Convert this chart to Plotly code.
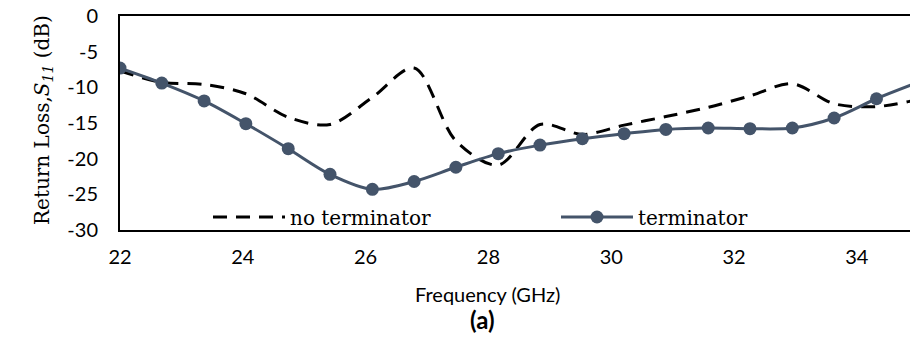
import plotly.graph_objects as go

freq = [22.00, 22.68, 23.37, 24.05, 24.74, 25.42, 26.11, 26.79, 27.47, 28.16,
        28.84, 29.53, 30.21, 30.89, 31.58, 32.26, 32.95, 33.63, 34.32, 35.00]
no_term = [-7.7, -9.3, -9.6, -10.9, -14.2, -15.2, -11.4, -7.3, -17.5, -20.9,
           -15.2, -16.6, -15.3, -14.1, -12.8, -11.2, -9.5, -12.3, -12.7, -11.7]
term = [-7.3, -9.4, -11.9, -15.1, -18.6, -22.2, -24.3, -23.2, -21.2, -19.3,
        -18.1, -17.2, -16.5, -15.9, -15.7, -15.8, -15.7, -14.3, -11.6, -9.3]
y_ticks = [0, -5, -10, -15, -20, -25, -30]
x_ticks = [22, 24, 26, 28, 30, 32, 34]

SERIF = "DejaVu Serif"
SANS = "Lato"
BLUE = "#44546A"

fig = go.Figure()
fig.add_trace(go.Scatter(
    x=freq, y=no_term, name="no terminator", mode="lines", legend="legend",
    line=dict(color="black", width=3, dash="14px,9px", shape="spline", smoothing=0.9),
))
fig.add_trace(go.Scatter(
    x=freq, y=term, name="terminator", mode="lines+markers", legend="legend2",
    line=dict(color=BLUE, width=3, shape="spline", smoothing=0.9),
    marker=dict(color=BLUE, size=13),
))

L = 120
PW = 790
PH = 214
BOT = 230


def px_x(p):
    return (p - L) / PW


def px_y(p):
    return (BOT - p) / PH


leg_common = dict(orientation="h", xanchor="left", yanchor="middle",
                  bgcolor="rgba(0,0,0,0)", itemwidth=72,
                  font=dict(family=SERIF, size=20, color="black"))

fig.update_layout(
    width=910, height=340,
    margin=dict(l=L, r=0, t=16, b=110),
    paper_bgcolor="white", plot_bgcolor="white",
    font=dict(family=SANS, size=20, color="black"),
    showlegend=True,
    legend=dict(x=px_x(208), y=px_y(217), **leg_common),
    legend2=dict(x=px_x(556), y=px_y(217), **leg_common),
    xaxis=dict(
        range=[22, 34.866], tickvals=x_ticks, ticktext=[str(v) for v in x_ticks],
        showgrid=False, zeroline=False, showline=True, linecolor="black",
        linewidth=2, mirror=True, ticks="", ticklabelstandoff=8,
        tickfont=dict(family=SANS, size=20),
    ),
    yaxis=dict(
        range=[-30, 0], tickvals=y_ticks, ticktext=[str(v) for v in y_ticks],
        showgrid=False, zeroline=False, showline=True, linecolor="black",
        linewidth=2, mirror=False, ticks="", ticklabelstandoff=16,
        tickfont=dict(family=SANS, size=20),
    ),
    annotations=[
        dict(text="Return Loss,<i>S</i><sub><i>11</i></sub> (dB)", xref="paper", yref="paper",
             x=px_x(43), y=px_y(120), textangle=-90,
             xanchor="center", yanchor="middle", showarrow=False,
             font=dict(family=SERIF, size=20)),
        dict(text="Frequency (GHz)", xref="paper", yref="paper",
             x=px_x(487.5), y=px_y(294),
             xanchor="center", yanchor="middle", showarrow=False,
             font=dict(family=SANS, size=20)),
        dict(text="<b>(a)</b>", xref="paper", yref="paper",
             x=px_x(482), y=px_y(319),
             xanchor="center", yanchor="middle", showarrow=False,
             font=dict(family=SANS, size=24)),
    ],
)

fig.write_html("out.html")
